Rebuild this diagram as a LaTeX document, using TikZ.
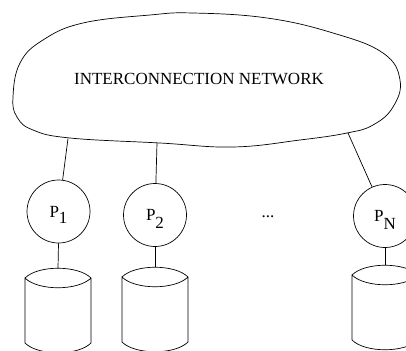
\documentclass[tikz,border=0pt]{standalone}
\usepackage{fontspec}
\setmainfont{Liberation Serif}
\begin{document}
\begin{tikzpicture}[x=1pt,y=-1pt,line width=0.7pt,
  txt/.style={font=\fontsize{17}{20}\selectfont},
  proc/.style={circle,draw,minimum size=63pt,inner sep=0pt,txt},
  drum/.pic={
    \draw (-33,10) .. controls (-20,-3) and (20,-3) .. (33,10)
          .. controls (20,23) and (-20,23) .. (-33,10) -- (-33,75)
          .. controls (-20,88) and (20,88) .. (33,75) -- (33,10);
    \coordinate (-top) at (0,0.3);
  }]
\useasboundingbox (0,0) rectangle (406,350);
\clip (0,0) rectangle (406,350);
% cloud
\draw plot[smooth cycle,tension=0.7] coordinates {
  (13,97) (20,63) (43,40) (83,23) (150,15) (193,13) (267,18) (333,33)
  (383,53) (400,80) (393,107) (373,125) (347,133) (300,140) (233,147)
  (160,143) (70,138) (33,130) (17,117)};
\node[txt] (net) at (199,79) {INTERCONNECTION NETWORK};
\coordinate (c1) at (68,138.5);
\coordinate (c2) at (157,143);
\coordinate (c3) at (348,133);
% processors
\node[proc] (p1) at (58.5,211.5) {P\raisebox{-6pt}[\height][0pt]{1}};
\node[proc] (p2) at (155,215) {P\raisebox{-8pt}[\height][0pt]{2}};
\node[proc] (pN) at (385,216) {P\raisebox{-8pt}[\height][0pt]{N}};
\node[txt] (dots) at (268,217) {...};
% disks
\pic (d1) at (58,268) {drum};
\pic (d2) at (155,267) {drum};
\pic (dN) at (385,265) {drum};
% connectors
\draw (c1) -- (p1);
\draw (c2) -- (p2);
\draw (c3) -- (pN);
\draw (p1.south) -- (d1-top);
\draw (p2.south) -- (d2-top);
\draw (pN.south) -- (dN-top);
\end{tikzpicture}
\end{document}
